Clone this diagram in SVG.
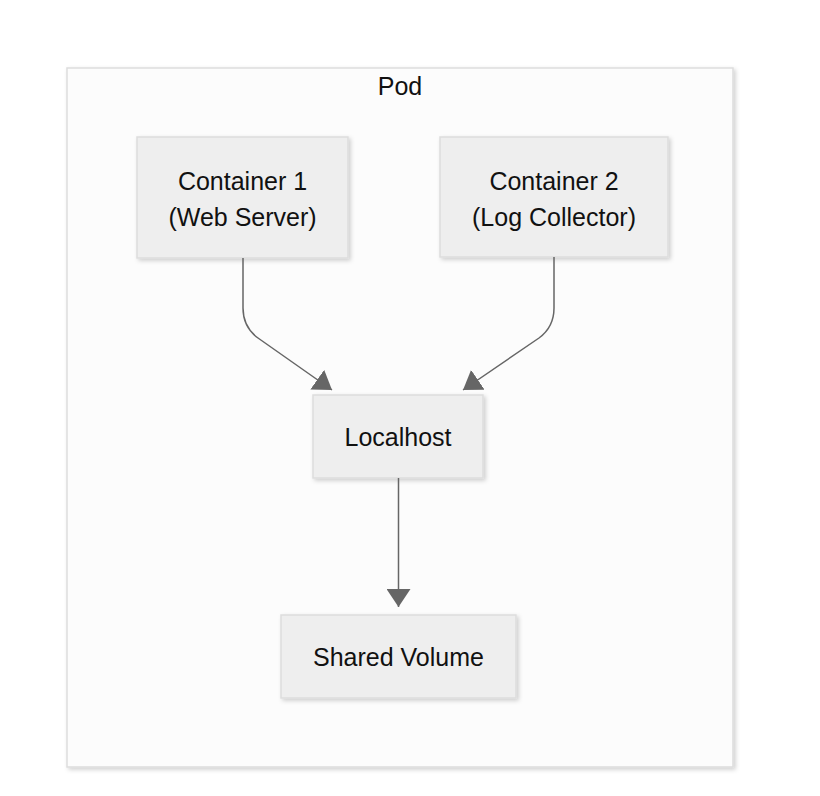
<svg xmlns="http://www.w3.org/2000/svg" width="820" height="796" viewBox="0 0 820 796">
<defs>
<filter id="sh" x="-10%" y="-10%" width="130%" height="130%">
<feDropShadow dx="2" dy="2" stdDeviation="2" flood-color="#000" flood-opacity="0.18"/>
</filter>
<marker id="arr" markerUnits="userSpaceOnUse" markerWidth="18" markerHeight="24" viewBox="0 0 18 24" refX="18" refY="12" orient="auto">
<path d="M0,0 L18,12 L0,24 z" fill="#666"/>
</marker>
</defs>
<style>
.pod{fill:#fcfcfc;stroke:#dddddd;stroke-width:1.5}
.node{fill:#eeeeee;stroke:#dddddd;stroke-width:1.5}
.t{font-family:"Liberation Sans",Arial,sans-serif;font-size:25px;fill:#111;text-anchor:middle}
.c{fill:none;stroke:#666;stroke-width:1.5}
</style>
<rect width="820" height="796" fill="#ffffff"/>
<g id="pod">
<rect class="pod" x="67" y="68" width="666" height="699" filter="url(#sh)"/>
<text class="t" x="400" y="95">Pod</text>
</g>
<g id="container1">
<rect class="node" x="137" y="137" width="211" height="121" filter="url(#sh)"/>
<text class="t" x="242.5" y="190">Container 1</text>
<text class="t" x="242.5" y="226">(Web Server)</text>
</g>
<g id="container2">
<rect class="node" x="440" y="137" width="228" height="120" filter="url(#sh)"/>
<text class="t" x="554" y="190">Container 2</text>
<text class="t" x="554" y="226">(Log Collector)</text>
</g>
<g id="localhost">
<rect class="node" x="313" y="395" width="170" height="83" filter="url(#sh)"/>
<text class="t" x="398" y="446">Localhost</text>
</g>
<g id="shared">
<rect class="node" x="281" y="615" width="235" height="83" filter="url(#sh)"/>
<text class="t" x="398.5" y="666">Shared Volume</text>
</g>
<g id="connectors">
<path class="c" d="M243,258 L243,308 Q243,327 258,338 L332,390" marker-end="url(#arr)"/>
<path class="c" d="M554,257 L554,308 Q554,327 539,338 L463,390" marker-end="url(#arr)"/>
<path class="c" d="M398.5,478 L398.5,607" marker-end="url(#arr)"/>
</g>
</svg>
